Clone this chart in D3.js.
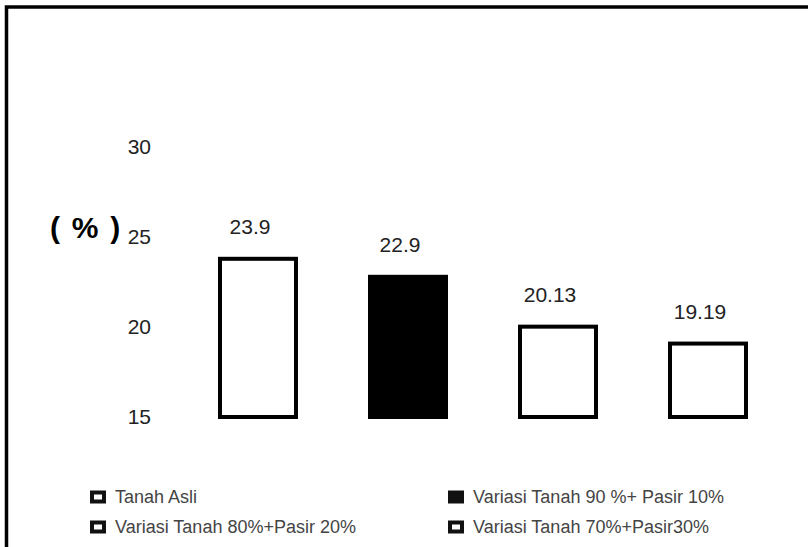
<!DOCTYPE html>
<html>
<head>
<meta charset="utf-8">
<script src="https://cdn.jsdelivr.net/npm/d3@7"></script>
<style>
  html, body { margin: 0; padding: 0; background: #fff; }
  svg { display: block; font-family: "Liberation Sans", Arial, Helvetica, sans-serif; }
</style>
</head>
<body>
<svg id="chart" width="808" height="547"></svg>
<script>
// Series: soil mixtures and their measured percentage
const categories = ["Tanah Asli", "Variasi Tanah 90 %+ Pasir 10%", "Variasi Tanah 80%+Pasir 20%", "Variasi Tanah 70%+Pasir30%"];
const values = [23.9, 22.9, 20.13, 19.19];
const valueLabels = ["23.9", "22.9", "20.13", "19.19"];
const fills = ["#fff", "#000", "#fff", "#fff"];
const yTicks = [15, 20, 25, 30];
const yTitle = "( % )";
// legend cells in reading order (row by row)
const legendOrder = [0, 1, 2, 3];

const svg = d3.select("#chart");

// outer frame (top and left edges only)
svg.append("path")
  .attr("d", "M6.5,547 L6.5,7 L808,7")
  .attr("fill", "none")
  .attr("stroke", "#000")
  .attr("stroke-width", 3.5);

const x = d3.scaleBand()
  .domain(categories)
  .range([183, 783])
  .paddingInner(0.4667)
  .paddingOuter(0.2333);

const y = d3.scaleLinear()
  .domain([15, 30])
  .range([417, 147]);

// value axis: labels only, no line or ticks
const yAxis = svg.append("g")
  .attr("transform", "translate(151,0)")
  .call(d3.axisLeft(y).tickValues(yTicks).tickSize(0).tickPadding(0).tickFormat(d3.format("d")));
yAxis.select(".domain").remove();
yAxis.selectAll("text")
  .attr("font-size", 21)
  .attr("fill", "#222")
  .attr("font-family", "'Liberation Sans', Arial, sans-serif");

svg.append("text")
  .attr("x", 50)
  .attr("y", 238)
  .attr("font-size", 30)
  .attr("font-weight", "bold")
  .attr("word-spacing", 3.5)
  .attr("fill", "#000")
  .text(yTitle);

// bars
const sw = 4;
svg.append("g").selectAll("rect")
  .data(values)
  .join("rect")
  .attr("x", (d, i) => x(categories[i]) + sw / 2)
  .attr("y", d => y(d) + sw / 2)
  .attr("width", x.bandwidth() - sw)
  .attr("height", d => y(15) - y(d) - sw / 2)
  .attr("fill", (d, i) => fills[i])
  .attr("stroke", "#000")
  .attr("stroke-width", sw);

// value labels above bars, set slightly left of the bar centre
svg.append("g").selectAll("text")
  .data(values)
  .join("text")
  .attr("x", (d, i) => x(categories[i]) + x.bandwidth() / 2 - 8)
  .attr("y", d => y(d) - 23)
  .attr("text-anchor", "middle")
  .attr("font-size", 21)
  .attr("fill", "#222")
  .text((d, i) => valueLabels[i]);

// legend: two columns, two rows
const legendCols = [90, 448];
const legendRows = [497, 527];
const legend = svg.append("g").selectAll("g")
  .data(legendOrder)
  .join("g")
  .attr("transform", (d, k) => `translate(${legendCols[k % 2]},${legendRows[Math.floor(k / 2)]})`);

legend.append("rect")
  .attr("x", 2)
  .attr("y", -4.5)
  .attr("width", 12)
  .attr("height", 9)
  .attr("fill", d => fills[d] === "#000" ? "#111" : "#fff")
  .attr("stroke", "#111")
  .attr("stroke-width", 4);

legend.append("text")
  .attr("x", 25)
  .attr("y", 0)
  .attr("dy", "0.36em")
  .attr("font-size", 18)
  .attr("fill", "#444")
  .text(d => categories[d]);
</script>
</body>
</html>
